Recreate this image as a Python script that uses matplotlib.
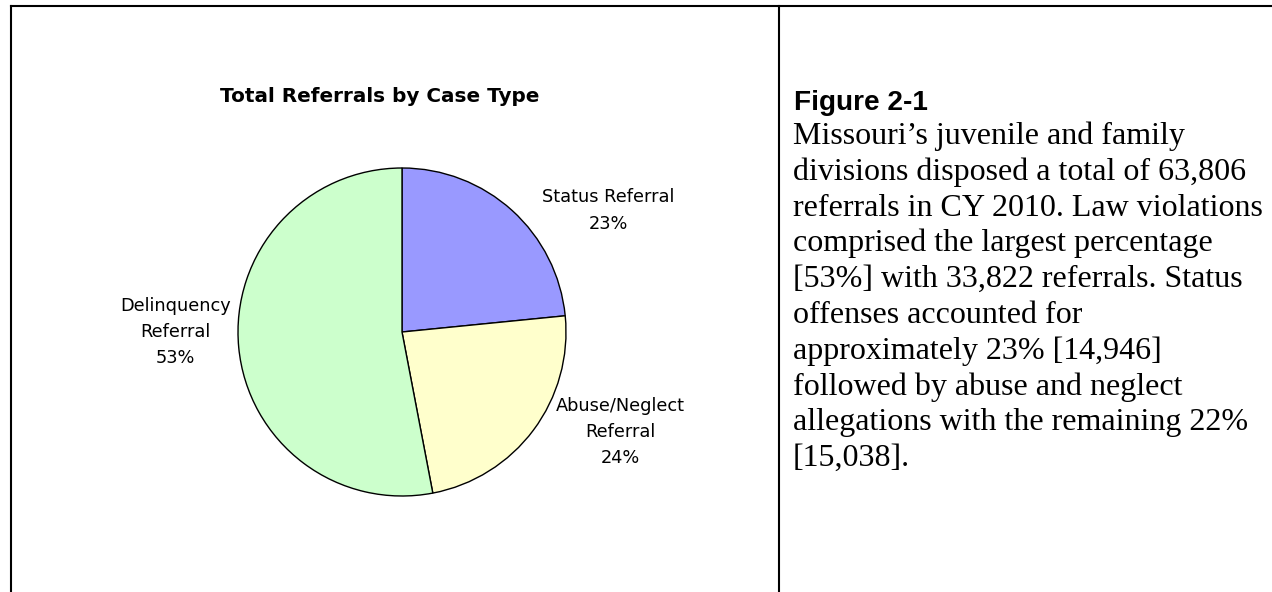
import matplotlib
matplotlib.use("Agg")
import matplotlib.pyplot as plt
from matplotlib.lines import Line2D

W, H = 1272, 592

# chart data
case_types = ["Status Referral", "Abuse/Neglect\nReferral", "Delinquency\nReferral"]
referrals = [14946, 15038, 33822]
colors = ["#9999FF", "#FFFFCC", "#CCFFCC"]
# label centres in pie-radius units (Excel style placement)
label_pos = [(1.26, 0.74), (1.33, -0.61), (-1.38, 0.0)]

title = "Total Referrals by Case Type"
caption_head = "Figure 2-1"
caption_lines = [
    "Missouri\u2019s juvenile and family",
    "divisions disposed a total of 63,806",
    "referrals in CY 2010. Law violations",
    "comprised the largest percentage",
    "[53%] with 33,822 referrals. Status",
    "offenses accounted for",
    "approximately 23% [14,946]",
    "followed by abuse and neglect",
    "allegations with the remaining 22%",
    "[15,038].",
]


def px(x, y):
    # pixel coords (from top left) -> figure fraction
    return x / W, 1 - y / H


fig = plt.figure(figsize=(W / 100, H / 100), dpi=100)

# table frame around the two cells
lw = 1.5
for (x0, y0), (x1, y1) in [((11, 6), (W, 6)), ((11, 6), (11, H)), ((779, 6), (779, H))]:
    a, b = px(x0, y0)
    c, d = px(x1, y1)
    fig.add_artist(Line2D([a, c], [b, d], color="black", lw=lw, transform=fig.transFigure))

# pie: centre (402, 332) px, radius 164 px
cx, cy, r = 402, 332, 164
ax = fig.add_axes([(cx - r) / W, (H - cy - r) / H, 2 * r / W, 2 * r / H])
total = sum(referrals)
labels = [f"{n}\n{round(100 * v / total)}%" for n, v in zip(case_types, referrals)]
wedges, texts = ax.pie(
    referrals,
    labels=labels,
    colors=colors,
    startangle=90,
    counterclock=False,
    radius=1.0,
    wedgeprops=dict(edgecolor="black", linewidth=1.0),
    textprops=dict(fontsize=12.8, family="DejaVu Sans", color="black"),
)
for t, pos in zip(texts, label_pos):
    t.set_position(pos)
    t.set_ha("center")
    t.set_va("center")
    t.set_multialignment("center")
    t.set_linespacing(1.6)
    t.set_clip_on(False)
ax.set_xlim(-1, 1)
ax.set_ylim(-1, 1)
ax.set_aspect("equal")
ax.axis("off")

tx, ty = px(380, 102)
fig.text(tx, ty, title, ha="center", va="baseline", fontsize=14.4,
         fontweight="bold", family="DejaVu Sans")

# caption in right cell
hx, hy = px(794, 110)
fig.text(hx, hy, caption_head, ha="left", va="baseline", fontsize=20.2,
         fontweight="bold", family="Liberation Sans")
for i, line in enumerate(caption_lines):
    lx, ly = px(793, 144 + i * 35.8)
    fig.text(lx, ly, line, ha="left", va="baseline", fontsize=23,
             family="Liberation Serif")

fig.savefig("out.png", dpi=100)
